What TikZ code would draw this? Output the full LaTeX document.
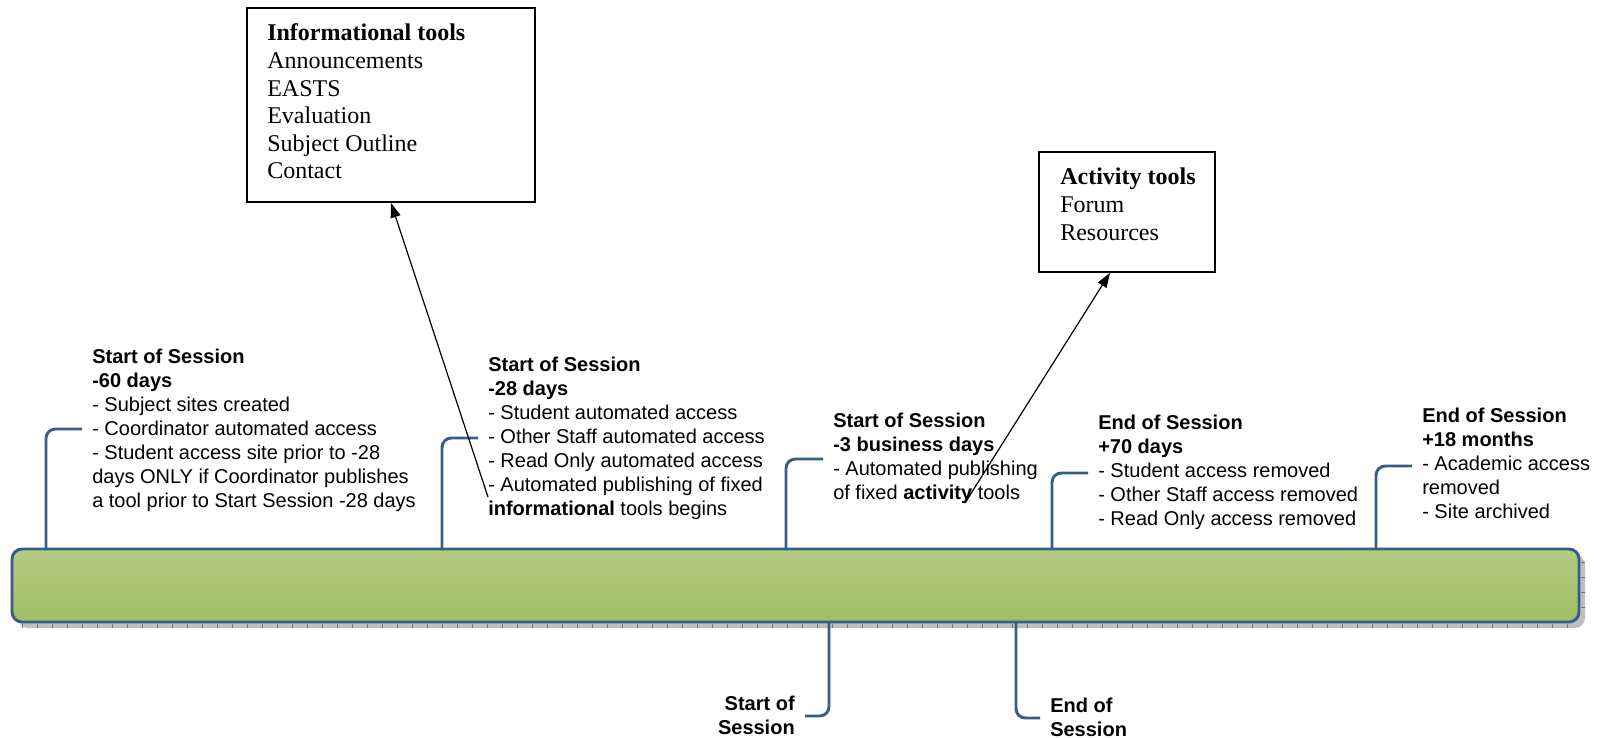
\documentclass[tikz,border=0pt]{standalone}
\usepackage{fontspec}
\setmainfont{Liberation Sans}
\newfontfamily\timesfont{Liberation Serif}
\usetikzlibrary{calc,arrows.meta}
\definecolor{lineblue}{RGB}{56,93,138}
\definecolor{bartop}{RGB}{179,204,131}
\definecolor{barbottom}{RGB}{161,190,100}
\tikzset{
	link/.style={draw=lineblue, line width=2.2pt, rounded corners=7pt},
	note/.style={anchor=base west, align=left, inner sep=0pt, font=\fontsize{15}{18}\selectfont},
	toolbox/.style={draw, line width=1.3pt, inner sep=0pt},
	tooltext/.style={anchor=base west, align=left, inner sep=0pt, font=\timesfont\fontsize{18}{20.7}\selectfont},
	pointer/.style={-{Triangle[length=11pt,width=7.5pt]}, line width=0.9pt}
}

\begin{document}
\begin{tikzpicture}[x=0.75pt, y=-0.75pt]
			%%%%% START %%%%%
			\useasboundingbox (0, 0) rectangle (1599, 738);
			
			% shadow of the bar
			\fill[black!25, rounded corners=7.5pt] (18, 555) rectangle (1585, 628);
			\foreach \x in {22, 37, ..., 1580}
				\draw[black!55, line width=0.5pt] (\x, 624) -- (\x, 628);
			\foreach \y in {562, 577, ..., 620}
				\draw[black!55, line width=0.5pt] (1581, \y) -- (1585, \y);
			
			% the bar
			\draw[lineblue, line width=2.2pt, rounded corners=7.5pt, top color=bartop, bottom color=barbottom] (12, 549) rectangle (1579, 622);
			
			% connectors above
			\draw[link] (46, 549) |- (82, 429);
			\draw[link] (442, 549) |- (478, 438);
			\draw[link] (786, 549) |- (823, 459);
			\draw[link] (1052, 549) |- (1088, 473);
			\draw[link] (1376, 549) |- (1412, 466);
			
			% connectors below
			\draw[link] (829, 622) |- (805, 716);
			\draw[link] (1016, 622) |- (1040, 718);
			
			% texts, placed by the baseline of their last line
			\node[note] (sixty) at (92, 507) {\textbf{Start of Session}\\\textbf{-60 days}\\- Subject sites created\\- Coordinator automated access\\- Student access site prior to -28\\days ONLY if Coordinator publishes\\a tool prior to Start Session -28 days};
			\node[note] (twentyeight) at (488, 515) {\textbf{Start of Session}\\\textbf{-28 days}\\- Student automated access\\- Other Staff automated access\\- Read Only automated access\\- Automated publishing of fixed\\\textbf{informational} tools begins};
			\node[note] (three) at (833, 499) {\textbf{Start of Session}\\\textbf{-3 business days}\\- Automated publishing\\of fixed \textbf{activity} tools};
			\node[note] (seventy) at (1098, 525) {\textbf{End of Session}\\\textbf{+70 days}\\- Student access removed\\- Other Staff access removed\\- Read Only access removed};
			\node[note] (eighteen) at (1422, 518) {\textbf{End of Session}\\\textbf{+18 months}\\- Academic access\\removed\\- Site archived};
			
			\node[note, anchor=base east, align=right] (start) at (795, 734) {\textbf{Start of}\\\textbf{Session}};
			\node[note] (end) at (1050, 736) {\textbf{End of}\\\textbf{Session}};
			
			% tool boxes
			\node[toolbox, minimum width=216pt, minimum height=145.5pt] (info) at (391, 105) {};
			\node[tooltext] (infotext) at (267, 179) {\textbf{Informational tools}\\Announcements\\EASTS\\Evaluation\\Subject Outline\\Contact};
			\node[toolbox, minimum width=132pt, minimum height=90pt] (act) at (1127, 212) {};
			\node[tooltext] (acttext) at (1060, 240) {\textbf{Activity tools}\\Forum\\Resources};
			
			\coordinate (infotail) at (488, 497);
			\coordinate (acttail) at (965, 503);
			\draw[pointer] (infotail) -- (info.south);
			\draw[pointer] (acttail) -- ($(act.south)+(-17, 0)$);
			%%%%% END %%%%%
\end{tikzpicture}
\end{document}
